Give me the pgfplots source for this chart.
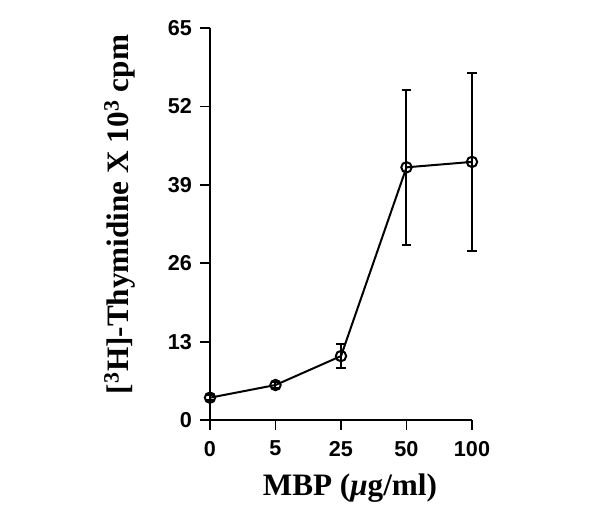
\documentclass[border=0pt]{standalone}
\usepackage{fontspec}
\setmainfont{Liberation Serif}
\setsansfont{Liberation Sans}
\usepackage{pgfplots}
\pgfplotsset{compat=1.18}

\begin{document}
\begin{tikzpicture}
\begin{axis}[
    at={(0,0)}, anchor=south west,
    scale only axis,
    width=131pt, height=196pt,
    xmin=0, xmax=4,
    ymin=0, ymax=65,
    axis x line*=bottom,
    axis y line*=left,
    axis line style={line width=1pt},
    xtick={0,1,2,3,4},
    xticklabels={0,5,25,50,100},
    ytick={0,13,26,39,52,65},
    tick align=outside,
    major tick length=5pt,
    tick style={line width=0.9pt, black},
    /pgf/number format/assume math mode=true,
    tick label style={font=\fontsize{10.8}{12}\sffamily\bfseries},
    xticklabel style={yshift=-2pt},
    yticklabel style={xshift=-0.5pt},
    xlabel={MBP ({\itshape μ}g/ml)},
    ylabel={[\textsuperscript{3}H]-Thymidine X 10\textsuperscript{3} cpm},
    label style={font=\fontsize{15.6}{17}\selectfont\bfseries},
    xlabel style={at={(axis description cs:0.534,-0.175)}, anchor=center},
    ylabel style={at={(axis description cs:-0.344,0.524)}, anchor=center, rotate=0},
    clip=false,
]
\addplot[black, line width=1pt, mark=o, mark size=2.6pt,
    mark options={line width=1pt, fill=white},
    error bars/.cd, y dir=both, y explicit,
    error bar style={line width=1pt},
    error mark options={rotate=90, mark size=2.4pt, line width=1pt}]
coordinates {
    (0, 3.7) +- (0, 0.4)
    (1, 5.8) +- (0, 0.5)
    (2, 10.6) +- (0, 2.0)
    (3, 41.9) +- (0, 12.9)
    (4, 42.8) +- (0, 14.7)
};
\end{axis}
\path[use as bounding box] (-105pt,-45pt) rectangle (195pt,210pt);
\end{tikzpicture}
\end{document}
